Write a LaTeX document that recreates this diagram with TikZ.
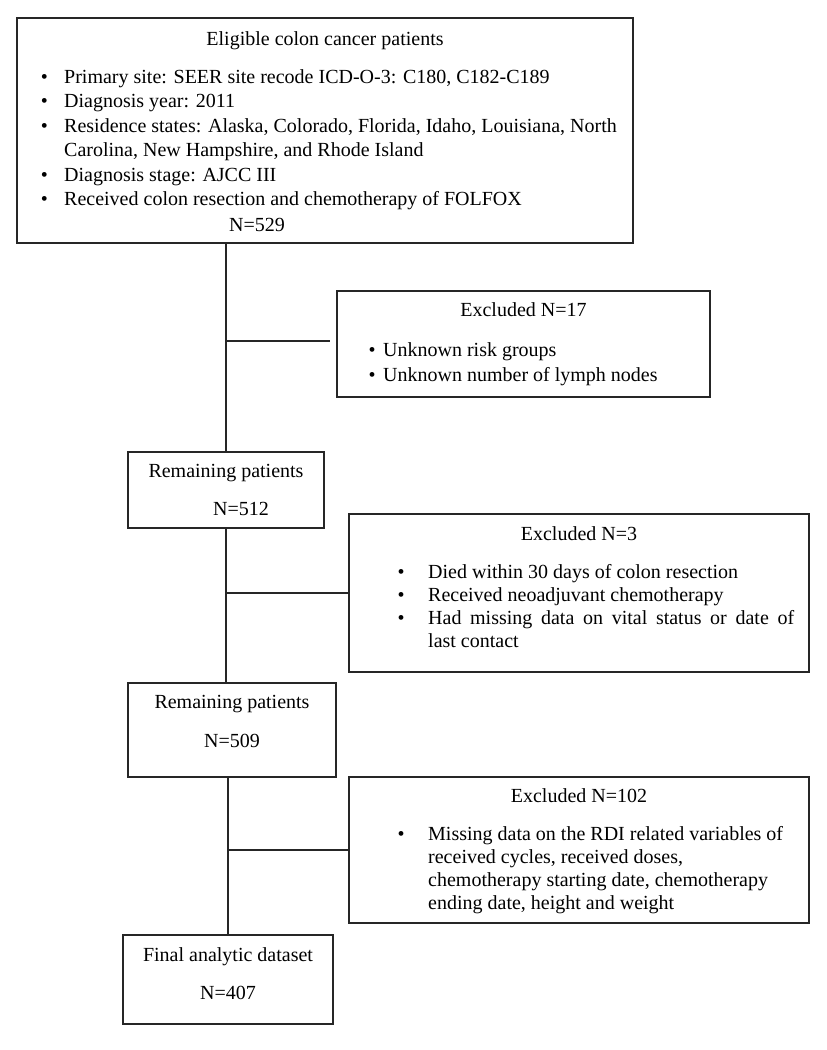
\documentclass[tikz,border=0pt]{standalone}
\usepackage{fontspec}
\setmainfont{Liberation Serif}
\begin{document}
\begin{tikzpicture}[x=1pt,y=-1pt,
  box/.style={draw=black!85, line width=1.5pt, inner sep=0pt},
  txt/.style={inner sep=0pt, font=\fontsize{20}{24}\selectfont, text height=14pt, text depth=4pt},
  ltxt/.style={txt, anchor=west},
  bul/.style={txt},
  conn/.style={draw=black!85, line width=1.9pt}]
\useasboundingbox (0,0) rectangle (827,1050);

% boxes
\node[box, minimum width=616pt, minimum height=225pt] (b1) at (325,130.5) {};
\node[box, minimum width=373pt, minimum height=106pt] (e1) at (523.5,344) {};
\node[box, minimum width=196pt, minimum height=76pt] (r1) at (226,490) {};
\node[box, minimum width=460pt, minimum height=158pt] (e2) at (579,593) {};
\node[box, minimum width=208pt, minimum height=94pt] (r2) at (232,730) {};
\node[box, minimum width=460pt, minimum height=146pt] (e3) at (579,850) {};
\node[box, minimum width=210pt, minimum height=89pt] (fb) at (228,979.5) {};

% connectors
\draw[conn] (r1.north |- b1.south) -- (r1.north);
\draw[conn] ([yshift=3pt]r1.north |- e1.west) -- ([xshift=-6pt,yshift=3pt]e1.west);
\draw[conn] (r1.south) -- (r1.south |- r2.north);
\draw[conn] (r1.south |- e2.west) -- (e2.west);
\draw[conn] (fb.north |- r2.south) -- (fb.north);
\draw[conn] (fb.north |- e3.west) -- (e3.west);

% box 1 text
\node[txt] (t1) at (325,40) {Eligible colon cancer patients};
\foreach \yy/\tt [count=\i] in {78/{Primary site: SEER site recode ICD-O-3: C180, C182-C189},
  102.5/{Diagnosis year: 2011},
  127/{Residence states: Alaska, Colorado, Florida, Idaho, Louisiana, North},
  176/{Diagnosis stage: AJCC III},
  200.5/{Received colon resection and chemotherapy of FOLFOX}} {
  \node[bul] (b1b\i) at (44.5,\yy) {•};
  \node[ltxt] (b1t\i) at (64,\yy) {\tt};
}
\node[ltxt] (b1t6) at (64,151.5) {Carolina, New Hampshire, and Rhode Island};
\node[txt] (n1) at (257,226) {N=529};

% excluded 1
\node[txt] (e1t) at (523.5,311) {Excluded N=17};
\node[bul] (e1b1) at (372,351) {•};
\node[ltxt] (e1t1) at (383,351) {Unknown risk groups};
\node[bul] (e1b2) at (372,376) {•};
\node[ltxt] (e1t2) at (383,376) {Unknown number of lymph nodes};

% remaining 1
\node[txt] (r1t) at (226,472) {Remaining patients};
\node[txt] (r1n) at (241,510) {N=512};

% excluded 2
\node[txt] (e2t) at (579,535) {Excluded N=3};
\node[bul] (e2b1) at (401,573) {•};
\node[ltxt] (e2t1) at (428,573) {Died within 30 days of colon resection};
\node[bul] (e2b2) at (401,596) {•};
\node[ltxt] (e2t2) at (428,596) {Received neoadjuvant chemotherapy};
\node[bul] (e2b3) at (401,619) {•};
\node[ltxt] (e2t3) at (428,619) {\makebox[366pt][s]{Had missing data on vital status or date of}};
\node[ltxt] (e2t4) at (428,642) {last contact};

% remaining 2
\node[txt] (r2t) at (232,703) {Remaining patients};
\node[txt] (r2n) at (232,742) {N=509};

% excluded 3
\node[txt] (e3t) at (579,797) {Excluded N=102};
\node[bul] (e3b1) at (401,835) {•};
\node[ltxt] (e3t1) at (428,835) {Missing data on the RDI related variables of};
\node[ltxt] (e3t2) at (428,858) {received cycles, received doses,};
\node[ltxt] (e3t3) at (428,881) {chemotherapy starting date, chemotherapy};
\node[ltxt] (e3t4) at (428,904) {ending date, height and weight};

% final
\node[txt] (ft) at (228,956) {Final analytic dataset};
\node[txt] (fn) at (228,994) {N=407};
\end{tikzpicture}
\end{document}
